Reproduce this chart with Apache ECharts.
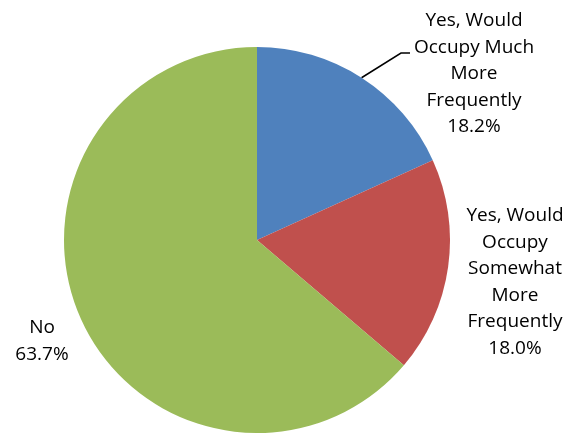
<!DOCTYPE html>
<html>
<head>
<meta charset="utf-8">
<script src="https://cdn.jsdelivr.net/npm/echarts@6/dist/echarts.min.js"></script>
<style>html,body{margin:0;padding:0;background:#fff;}#c{width:567px;height:433px;}</style>
</head>
<body>
<div id="c"></div>
<script>
const categories = [
  "Yes, Would\nOccupy Much\nMore\nFrequently",
  "Yes, Would\nOccupy\nSomewhat\nMore\nFrequently",
  "No"
];
const values = [18.2, 18.0, 63.7];
const colors = ["#4F81BD", "#C0504D", "#9BBB59"];

// label anchor placements (layout only)
const labelPos = [
  {x: 474, y: 74},
  {x: 515, y: 282},
  {x: 42, y: 341}
];

const chart = echarts.init(document.getElementById('c'), null, {renderer: 'canvas'});
chart.setOption({
  animation: false,
  series: [{
    type: 'pie',
    center: [257, 240],
    radius: 193,
    startAngle: 90,
    clockwise: true,
    silent: true,
    data: categories.map((n, i) => ({
      name: n,
      value: values[i],
      itemStyle: {color: colors[i]},
      labelLine: {show: i === 0}
    })),
    label: {
      show: true,
      position: 'outside',
      overflow: 'none',
      formatter: p => p.name + '\n' + p.value.toFixed(1) + '%',
      fontFamily: 'Open Sans',
      fontSize: 19,
      lineHeight: 26.5,
      color: '#000',
      align: 'center'
    },
    labelLine: {
      show: true,
      lineStyle: {color: '#000', width: 1.5}
    },
    labelLayout: function (params) {
      const i = params.dataIndex;
      const res = {x: labelPos[i].x, y: labelPos[i].y, align: 'center', verticalAlign: 'middle'};
      if (i === 0 && params.labelLinePoints) {
        const s = params.labelLinePoints[0];
        res.labelLinePoints = [[s[0], s[1]], [401, 53], [410, 53]];
      }
      return res;
    }
  }]
});
</script>
</body>
</html>
